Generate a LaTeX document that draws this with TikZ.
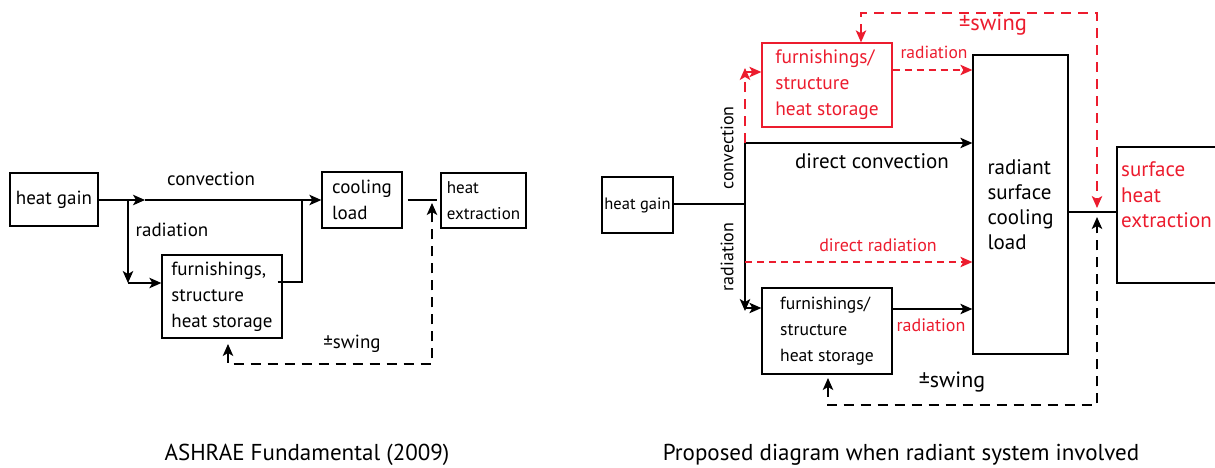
\documentclass[tikz,border=0pt]{standalone}
\usepackage{fontspec}
\setmainfont{PT Sans}
\usetikzlibrary{arrows.meta}
\definecolor{ared}{RGB}{236,28,46}
\begin{document}
\begin{tikzpicture}[x=1pt,y=-1pt,
  every node/.style={font=\fontsize{19}{26}\selectfont},
  box/.style={draw, line width=1.3pt, inner sep=0pt, align=left},
  lbl/.style={inner sep=0pt},
  ln/.style={line width=1.3pt},
  tip/.tip={Stealth[length=12pt,width=10.5pt,inset=3pt]},
  arr/.style={ln,-tip},
  dsh/.style={ln,dash pattern=on 10pt off 7pt},
  rdsh/.style={ln,ared,dash pattern=on 10pt off 7pt},
  rdshs/.style={ln,ared,dash pattern=on 7pt off 5pt},
  fs/.style={font=\fontsize{#1}{26}\selectfont},
  captxt/.style={font=\fontsize{23}{28}\selectfont}]
\useasboundingbox (0,0) rectangle (1215,467);
\begin{scope}
\clip (0,0) rectangle (1215,467);
% ---------- left diagram ----------
\node[box, minimum width=88, minimum height=53] (hg1) at (54,199.5) {heat gain};
\node[box, minimum width=80, minimum height=56] (cl1) at (362,200) {cooling\\load};
\node[box, minimum width=85, minimum height=55, fs=17] (he1) at (483.5,200.5) {heat\\extraction};
\node[box, minimum width=120, minimum height=83] (fs1) at (222,296.5) {furnishings,\\structure\\heat storage};
\coordinate (j1) at (128,200);
\coordinate (m1) at (145,200);
\coordinate (j2) at (302,200);
\coordinate (d1) at (128,283);
\coordinate (d2) at (302,282);
\draw[arr] (hg1.east |- j1) -- (m1);
\draw[ln] (m1) -- (j2);
\draw[arr] (j2) -- (cl1.west |- j2);
\draw[arr] (j1) -- (d1);
\draw[arr] (d1) -- (fs1.west |- d1);
\draw[ln] ([xshift=-5pt]fs1.east |- d2) -- (d2) -- (j2);
\draw[ln] ([xshift=5pt]cl1.east |- j2) -- ([xshift=-3pt]he1.west |- j2);
\coordinate (t1) at (432,203);
\coordinate (s1) at (432,364);
\coordinate (s2) at (228,364);
\coordinate (t2) at (228,344);
\draw[dsh,tip-tip] (t2) -- (s2) -- (s1) -- (t1);
\node[lbl] (lconv) at (211,179) {convection};
\node[lbl] (lrad) at (172,230) {radiation};
\node[lbl] (lsw) at (352,344) {±swing};
\node[lbl,captxt] (cap1) at (307,455) {ASHRAE Fundamental (2009)};
% ---------- right diagram ----------
\node[box, minimum width=71, minimum height=56, fs=16.5] (hg2) at (637.5,205) {heat gain};
\node[box, ared, minimum width=130, minimum height=84, text=ared, fs=19.4] (rs) at (827,85) {furnishings/\\structure\\heat storage};
\node[box, minimum width=130, minimum height=86, fs=17.6] (fs2) at (827,331) {furnishings/\\structure\\heat storage};
\node[box, minimum width=95, minimum height=299, font=\fontsize{21}{25}\selectfont] (rc) at (1020.5,204.5) {radiant\\surface\\cooling\\load};
\node[box, minimum width=130, minimum height=136] (she) at (1182,215) {};
\node[lbl, anchor=west, align=left, text=ared, font=\fontsize{21}{25.5}\selectfont] (shet) at (1121,195) {surface\\heat\\extraction};
\coordinate (v0) at (745,204);
\coordinate (vt) at (745,143);
\coordinate (vb) at (745,308);
\coordinate (vu) at (745,72);
\coordinate (vr) at (745,262);
\draw[ln] (hg2.east |- v0) -- (v0);
\draw[ln] (v0) -- (vt);
\draw[arr] (vt) -- (rc.west |- vt);
\draw[arr] (v0) -- ([yshift=-3pt]vb);
\draw[arr] (vb) -- (fs2.west |- vb);
\draw[rdsh,-tip] (vt) -- ([yshift=4pt]vu);
\draw[ln,ared,-tip] (vu) -- (rs.west |- vu);
\draw[rdshs,-tip] (vr) -- (rc.west |- vr);
\draw[arr] (fs2.east |- 0,309) -- (rc.west |- 0,309);
\draw[rdshs,-tip] (rs.east |- 0,70) -- (rc.west |- 0,70);
\coordinate (ra) at (861,13);
\coordinate (rb) at (1097,13);
\coordinate (rt) at (1097,208);
\draw[rdsh,tip-tip] (rs.north -| ra) -- (ra) -- (rb) -- (rt);
\draw[ln] (rc.east |- 0,212) -- (she.west |- 0,212);
\coordinate (bf) at (828,378);
\coordinate (ba) at (828,405);
\coordinate (bb) at (1097,405);
\coordinate (bt) at (1097,217);
\draw[dsh,tip-tip] (bf) -- (ba) -- (bb) -- (bt);
\node[lbl,fs=18,rotate=90] (rconv) at (727,148) {convection};
\node[lbl,fs=18,rotate=90] (rrad) at (727,257) {radiation};
\node[lbl,fs=21] (dconv) at (872,161) {direct convection};
\node[lbl,text=ared,fs=17.5] (rrad1) at (934,52) {radiation};
\node[lbl,text=ared,fs=22.5] (rsw) at (993,25) {±swing};
\node[lbl,text=ared,fs=18] (drad) at (878,245) {direct radiation};
\node[lbl,text=ared,fs=18] (rrad2) at (931,325) {radiation};
\node[lbl,fs=22] (bsw) at (952,382) {±swing};
\node[lbl,captxt] (cap2) at (901,455) {Proposed diagram when radiant system involved};
\end{scope}
\end{tikzpicture}
\end{document}
